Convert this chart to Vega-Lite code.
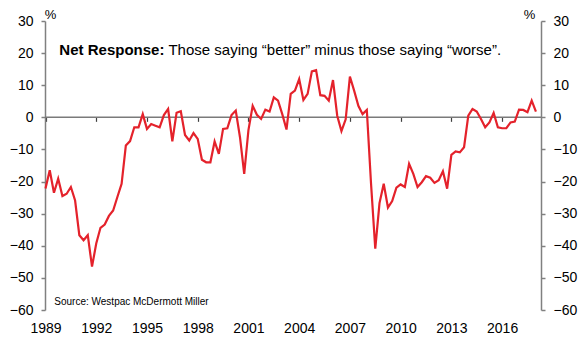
{
  "$schema": "https://vega.github.io/schema/vega-lite/v6.json",
  "width": 496,
  "height": 289,
  "autosize": {"type": "none"},
  "padding": {"left": 45, "top": 21, "right": 37, "bottom": 33},
  "background": "white",
  "config": {
    "view": {"stroke": null},
    "font": "Liberation Sans",
    "axis": {"grid": false, "labelFont": "Liberation Sans", "labelColor": "#000000", "titleFont": "Liberation Sans", "titleColor": "#000000"}
  },
  "datasets": {
    "series": [
      {"date": 1989.0, "net": -22.2}, {"date": 1989.25, "net": -16.5}, {"date": 1989.5, "net": -23.5}, {"date": 1989.75, "net": -19.1},
      {"date": 1990.0, "net": -24.5}, {"date": 1990.25, "net": -23.8}, {"date": 1990.5, "net": -21.7}, {"date": 1990.75, "net": -25.9},
      {"date": 1991.0, "net": -36.7}, {"date": 1991.25, "net": -38.3}, {"date": 1991.5, "net": -36.7}, {"date": 1991.75, "net": -46.5},
      {"date": 1992.0, "net": -39.3}, {"date": 1992.25, "net": -34.4}, {"date": 1992.5, "net": -33.4}, {"date": 1992.75, "net": -30.7},
      {"date": 1993.0, "net": -29.0}, {"date": 1993.25, "net": -24.8}, {"date": 1993.5, "net": -20.7}, {"date": 1993.75, "net": -8.8},
      {"date": 1994.0, "net": -7.4}, {"date": 1994.25, "net": -3.1}, {"date": 1994.5, "net": -3.1}, {"date": 1994.75, "net": 1.0},
      {"date": 1995.0, "net": -3.6}, {"date": 1995.25, "net": -2.1}, {"date": 1995.5, "net": -2.6}, {"date": 1995.75, "net": -3.1},
      {"date": 1996.0, "net": 0.7}, {"date": 1996.25, "net": 2.6}, {"date": 1996.5, "net": -7.5}, {"date": 1996.75, "net": 1.4},
      {"date": 1997.0, "net": 1.9}, {"date": 1997.25, "net": -5.5}, {"date": 1997.5, "net": -7.2}, {"date": 1997.75, "net": -4.9},
      {"date": 1998.0, "net": -6.7}, {"date": 1998.25, "net": -13.2}, {"date": 1998.5, "net": -14.0}, {"date": 1998.75, "net": -14.0},
      {"date": 1999.0, "net": -7.5}, {"date": 1999.25, "net": -11.4}, {"date": 1999.5, "net": -3.6}, {"date": 1999.75, "net": -3.4},
      {"date": 2000.0, "net": 0.7}, {"date": 2000.25, "net": 2.1}, {"date": 2000.5, "net": -6.2}, {"date": 2000.75, "net": -17.6},
      {"date": 2001.0, "net": -4.0}, {"date": 2001.25, "net": 3.6}, {"date": 2001.5, "net": 0.8}, {"date": 2001.75, "net": -0.5},
      {"date": 2002.0, "net": 2.4}, {"date": 2002.25, "net": 1.8}, {"date": 2002.5, "net": 6.2}, {"date": 2002.75, "net": 5.2},
      {"date": 2003.0, "net": 1.0}, {"date": 2003.25, "net": -3.8}, {"date": 2003.5, "net": 7.3}, {"date": 2003.75, "net": 8.3},
      {"date": 2004.0, "net": 11.9}, {"date": 2004.25, "net": 5.4}, {"date": 2004.5, "net": 7.3}, {"date": 2004.75, "net": 14.3},
      {"date": 2005.0, "net": 14.7}, {"date": 2005.25, "net": 6.9}, {"date": 2005.5, "net": 6.7}, {"date": 2005.75, "net": 5.2},
      {"date": 2006.0, "net": 11.6}, {"date": 2006.25, "net": 0.5}, {"date": 2006.5, "net": -4.3}, {"date": 2006.75, "net": -0.6},
      {"date": 2007.0, "net": 12.7}, {"date": 2007.25, "net": 8.3}, {"date": 2007.5, "net": 3.6}, {"date": 2007.75, "net": 1.0},
      {"date": 2008.0, "net": 2.3}, {"date": 2008.25, "net": -20.7}, {"date": 2008.5, "net": -40.9}, {"date": 2008.75, "net": -26.7},
      {"date": 2009.0, "net": -20.7}, {"date": 2009.25, "net": -28.1}, {"date": 2009.5, "net": -26.1}, {"date": 2009.75, "net": -21.9},
      {"date": 2010.0, "net": -20.9}, {"date": 2010.25, "net": -21.7}, {"date": 2010.5, "net": -14.5}, {"date": 2010.75, "net": -17.6},
      {"date": 2011.0, "net": -21.7}, {"date": 2011.25, "net": -20.2}, {"date": 2011.5, "net": -18.3}, {"date": 2011.75, "net": -18.8},
      {"date": 2012.0, "net": -20.4}, {"date": 2012.25, "net": -19.6}, {"date": 2012.5, "net": -16.8}, {"date": 2012.75, "net": -22.2},
      {"date": 2013.0, "net": -11.7}, {"date": 2013.25, "net": -10.6}, {"date": 2013.5, "net": -10.9}, {"date": 2013.75, "net": -9.3},
      {"date": 2014.0, "net": 0.5}, {"date": 2014.25, "net": 2.6}, {"date": 2014.5, "net": 1.8}, {"date": 2014.75, "net": -0.5},
      {"date": 2015.0, "net": -3.1}, {"date": 2015.25, "net": -1.6}, {"date": 2015.5, "net": 1.4}, {"date": 2015.75, "net": -3.1},
      {"date": 2016.0, "net": -3.4}, {"date": 2016.25, "net": -3.4}, {"date": 2016.5, "net": -1.6}, {"date": 2016.75, "net": -1.3},
      {"date": 2017.0, "net": 2.4}, {"date": 2017.25, "net": 2.3}, {"date": 2017.5, "net": 1.6}, {"date": 2017.75, "net": 5.2},
      {"date": 2018.0, "net": 1.8}
    ],
    "zero": [{"start": 1988.97, "end": 2018.3, "level": 0}],
    "boldNote": [{"x": 1989.82, "y": 21, "label": "Net Response:"}],
    "plainNote": [{"x": 1996.27, "y": 21, "label": "Those saying “better” minus those saying “worse”."}],
    "source": [{"x": 1989.52, "y": -57.5, "label": "Source: Westpac McDermott Miller"}]
  },
  "resolve": {"axis": {"x": "independent", "y": "independent"}},
  "layer": [
    {
      "data": {"name": "zero"},
      "mark": {"type": "rule", "color": "#7a7a7a", "strokeWidth": 1.5},
      "encoding": {
        "x": {"field": "start", "type": "quantitative",
              "scale": {"domain": [1988.97, 2018.3], "nice": false, "zero": false},
              "axis": {"orient": "bottom", "offset": -192.67, "values": [1989, 1992, 1995, 1998, 2001, 2004, 2007, 2010, 2013, 2016],
                       "labels": false, "domain": false, "ticks": true, "tickSize": 4, "tickColor": "#404040", "tickWidth": 1.2, "title": null}},
        "x2": {"field": "end"},
        "y": {"field": "level", "type": "quantitative",
              "scale": {"domain": [-60, 30], "nice": false, "zero": false},
              "axis": {"orient": "right", "values": [-60, -50, -40, -30, -20, -10, 0, 10, 20, 30],
                       "tickSize": 4, "tickColor": "#808080", "tickWidth": 1.5, "domainColor": "#808080", "domainWidth": 1.5,
                       "labelFontSize": 14, "labelPadding": 8,
                       "title": "%", "titleAngle": 0, "titleFontSize": 13, "titleFontWeight": "normal",
                       "titleX": -12, "titleY": -7, "titleAlign": "center", "titleBaseline": "middle"}}
      }
    },
    {
      "data": {"name": "series"},
      "mark": {"type": "line", "color": "#e4222b", "strokeWidth": 2.2},
      "encoding": {
        "x": {"field": "date", "type": "quantitative",
              "axis": {"orient": "bottom", "values": [1989, 1992, 1995, 1998, 2001, 2004, 2007, 2010, 2013, 2016], "format": "d",
                       "ticks": false, "domain": false, "labelFlush": false, "labelOverlap": false, "labelFontSize": 14, "labelPadding": 11, "title": null}},
        "y": {"field": "net", "type": "quantitative",
              "axis": {"orient": "left", "values": [-60, -50, -40, -30, -20, -10, 0, 10, 20, 30],
                       "tickSize": 4, "tickColor": "#808080", "tickWidth": 1.5, "domainColor": "#808080", "domainWidth": 1.5,
                       "labelFontSize": 14, "labelPadding": 8,
                       "title": "%", "titleAngle": 0, "titleFontSize": 13, "titleFontWeight": "normal",
                       "titleX": 5, "titleY": -7, "titleAlign": "center", "titleBaseline": "middle"}}
      }
    },
    {
      "data": {"name": "boldNote"},
      "mark": {"type": "text", "fontSize": 15, "fontWeight": "bold", "align": "left", "baseline": "middle", "color": "#000000"},
      "encoding": {
        "x": {"field": "x", "type": "quantitative", "axis": null},
        "y": {"field": "y", "type": "quantitative", "axis": null},
        "text": {"field": "label"}
      }
    },
    {
      "data": {"name": "plainNote"},
      "mark": {"type": "text", "fontSize": 15, "align": "left", "baseline": "middle", "color": "#000000"},
      "encoding": {
        "x": {"field": "x", "type": "quantitative", "axis": null},
        "y": {"field": "y", "type": "quantitative", "axis": null},
        "text": {"field": "label"}
      }
    },
    {
      "data": {"name": "source"},
      "mark": {"type": "text", "fontSize": 10, "align": "left", "baseline": "middle", "color": "#000000"},
      "encoding": {
        "x": {"field": "x", "type": "quantitative", "axis": null},
        "y": {"field": "y", "type": "quantitative", "axis": null},
        "text": {"field": "label"}
      }
    }
  ]
}
